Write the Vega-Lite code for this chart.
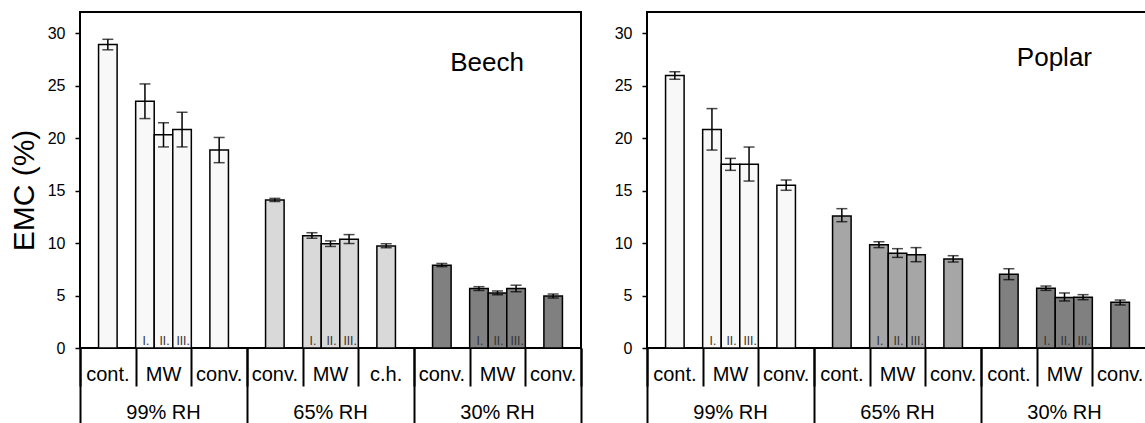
{
  "$schema": "https://vega.github.io/schema/vega-lite/v6.json",
  "padding": {"left": 8, "top": 11, "right": 0, "bottom": 0},
  "spacing": 30,
  "resolve": {"scale": {"color": "independent"}},
  "datasets": {
    "beech": [
      {"rh": "99% RH", "cell": "99% RH cont.", "run": "", "emc": 28.9, "lo": 28.4, "hi": 29.4},
      {"rh": "99% RH", "cell": "99% RH MW", "run": "I.", "emc": 23.5, "lo": 21.85, "hi": 25.15},
      {"rh": "99% RH", "cell": "99% RH MW", "run": "II.", "emc": 20.3, "lo": 19.15, "hi": 21.45},
      {"rh": "99% RH", "cell": "99% RH MW", "run": "III.", "emc": 20.8, "lo": 19.15, "hi": 22.45},
      {"rh": "99% RH", "cell": "99% RH conv.", "run": "", "emc": 18.85, "lo": 17.65, "hi": 20.05},
      {"rh": "65% RH", "cell": "65% RH cont.", "run": "", "emc": 14.1, "lo": 13.95, "hi": 14.25},
      {"rh": "65% RH", "cell": "65% RH MW", "run": "I.", "emc": 10.7, "lo": 10.45, "hi": 10.98},
      {"rh": "65% RH", "cell": "65% RH MW", "run": "II.", "emc": 9.93, "lo": 9.67, "hi": 10.2},
      {"rh": "65% RH", "cell": "65% RH MW", "run": "III.", "emc": 10.35, "lo": 9.95, "hi": 10.8},
      {"rh": "65% RH", "cell": "65% RH conv.", "run": "", "emc": 9.72, "lo": 9.55, "hi": 9.93},
      {"rh": "30% RH", "cell": "30% RH cont.", "run": "", "emc": 7.88, "lo": 7.75, "hi": 8.05},
      {"rh": "30% RH", "cell": "30% RH MW", "run": "I.", "emc": 5.66, "lo": 5.48, "hi": 5.84},
      {"rh": "30% RH", "cell": "30% RH MW", "run": "II.", "emc": 5.25, "lo": 5.07, "hi": 5.43},
      {"rh": "30% RH", "cell": "30% RH MW", "run": "III.", "emc": 5.66, "lo": 5.36, "hi": 5.98},
      {"rh": "30% RH", "cell": "30% RH conv.", "run": "", "emc": 4.95, "lo": 4.76, "hi": 5.14}
    ],
    "poplar": [
      {"rh": "99% RH", "cell": "99% RH cont.", "run": "", "emc": 25.95, "lo": 25.6, "hi": 26.3},
      {"rh": "99% RH", "cell": "99% RH MW", "run": "I.", "emc": 20.8, "lo": 18.85, "hi": 22.8},
      {"rh": "99% RH", "cell": "99% RH MW", "run": "II.", "emc": 17.5, "lo": 16.92, "hi": 18.06},
      {"rh": "99% RH", "cell": "99% RH MW", "run": "III.", "emc": 17.5, "lo": 15.9, "hi": 19.14},
      {"rh": "99% RH", "cell": "99% RH conv.", "run": "", "emc": 15.5, "lo": 15.02, "hi": 16.0},
      {"rh": "65% RH", "cell": "65% RH cont.", "run": "", "emc": 12.57, "lo": 12.03, "hi": 13.27},
      {"rh": "65% RH", "cell": "65% RH MW", "run": "I.", "emc": 9.83, "lo": 9.56, "hi": 10.12},
      {"rh": "65% RH", "cell": "65% RH MW", "run": "II.", "emc": 9.03, "lo": 8.63, "hi": 9.46},
      {"rh": "65% RH", "cell": "65% RH MW", "run": "III.", "emc": 8.88, "lo": 8.22, "hi": 9.56},
      {"rh": "65% RH", "cell": "65% RH conv.", "run": "", "emc": 8.48, "lo": 8.19, "hi": 8.79},
      {"rh": "30% RH", "cell": "30% RH cont.", "run": "", "emc": 7.03, "lo": 6.51, "hi": 7.55},
      {"rh": "30% RH", "cell": "30% RH MW", "run": "I.", "emc": 5.69, "lo": 5.49, "hi": 5.9},
      {"rh": "30% RH", "cell": "30% RH MW", "run": "II.", "emc": 4.8, "lo": 4.48, "hi": 5.24},
      {"rh": "30% RH", "cell": "30% RH MW", "run": "III.", "emc": 4.84, "lo": 4.6, "hi": 5.08},
      {"rh": "30% RH", "cell": "30% RH conv.", "run": "", "emc": 4.35, "lo": 4.1, "hi": 4.57}
    ],
    "beechCells": [
      {"cell": "99% RH cont.", "label": "cont."},
      {"cell": "99% RH MW", "label": "MW"},
      {"cell": "99% RH conv.", "label": "conv."},
      {"cell": "65% RH cont.", "label": "conv."},
      {"cell": "65% RH MW", "label": "MW"},
      {"cell": "65% RH conv.", "label": "c.h."},
      {"cell": "30% RH cont.", "label": "conv."},
      {"cell": "30% RH MW", "label": "MW"},
      {"cell": "30% RH conv.", "label": "conv."}
    ],
    "poplarCells": [
      {"cell": "99% RH cont.", "label": "cont."},
      {"cell": "99% RH MW", "label": "MW"},
      {"cell": "99% RH conv.", "label": "conv."},
      {"cell": "65% RH cont.", "label": "cont."},
      {"cell": "65% RH MW", "label": "MW"},
      {"cell": "65% RH conv.", "label": "conv."},
      {"cell": "30% RH cont.", "label": "cont."},
      {"cell": "30% RH MW", "label": "MW"},
      {"cell": "30% RH conv.", "label": "conv."}
    ],
    "groups": [
      {"rh": "99% RH"},
      {"rh": "65% RH"},
      {"rh": "30% RH"}
    ]
  },
  "hconcat": [
    {
      "title": {"text": "Beech", "anchor": "end", "dx": -58, "offset": -85, "baseline": "alphabetic", "fontSize": 26, "fontWeight": "normal", "color": "black"},
      "width": 501,
      "height": 336,
      "layer": [
        {
          "encoding": {
            "x": {"field": "cell", "type": "nominal", "title": null,
              "scale": {"domain": ["99% RH cont.", "99% RH MW", "99% RH conv.", "65% RH cont.", "65% RH MW", "65% RH conv.", "30% RH cont.", "30% RH MW", "30% RH conv."], "paddingInner": 0, "paddingOuter": 0},
              "axis": {"orient": "bottom", "labels": false, "domain": false, "ticks": true, "tickBand": "extent", "tickSize": 38, "tickWidth": 2, "tickColor": "black"}}
          },
          "layer": [
            {
              "data": {"name": "beech"},
              "transform": [{"filter": "datum.run == ''"}],
              "mark": {"type": "bar", "width": {"band": 0.3333}, "stroke": "black", "strokeWidth": 1.5},
              "encoding": {
                "y": {"field": "emc", "type": "quantitative", "title": "EMC (%)", "scale": {"domain": [0, 32], "nice": false}, "axis": {"titleY": 178}},
                "color": {"field": "rh", "type": "nominal", "legend": null, "scale": {"domain": ["99% RH", "65% RH", "30% RH"], "range": ["#f8f8f8", "#d9d9d9", "#808080"]}}
              }
            },
            {
              "data": {"name": "beech"},
              "transform": [{"filter": "datum.run != ''"}],
              "mark": {"type": "bar", "stroke": "black", "strokeWidth": 1.5},
              "encoding": {
                "xOffset": {"field": "run", "type": "nominal", "scale": {"domain": ["I.", "II.", "III."], "paddingInner": 0, "paddingOuter": 0}},
                "y": {"field": "emc", "type": "quantitative", "title": "EMC (%)"},
                "color": {"field": "rh", "type": "nominal", "legend": null}
              }
            },
            {
              "data": {"name": "beech"},
              "transform": [{"filter": "datum.run == ''"}],
              "mark": {"type": "rule", "color": "black", "strokeWidth": 1.5},
              "encoding": {
                "y": {"field": "lo", "type": "quantitative", "title": "EMC (%)"},
                "y2": {"field": "hi"}
              }
            },
            {
              "data": {"name": "beech"},
              "transform": [{"filter": "datum.run == ''"}],
              "mark": {"type": "tick", "color": "black", "size": 11, "thickness": 1.5},
              "encoding": {"y": {"field": "lo", "type": "quantitative", "title": "EMC (%)"}}
            },
            {
              "data": {"name": "beech"},
              "transform": [{"filter": "datum.run == ''"}],
              "mark": {"type": "tick", "color": "black", "size": 11, "thickness": 1.5},
              "encoding": {"y": {"field": "hi", "type": "quantitative", "title": "EMC (%)"}}
            },
            {
              "data": {"name": "beech"},
              "transform": [{"filter": "datum.run != ''"}],
              "mark": {"type": "rule", "color": "black", "strokeWidth": 1.5},
              "encoding": {
                "xOffset": {"field": "run", "type": "nominal"},
                "y": {"field": "lo", "type": "quantitative", "title": "EMC (%)"},
                "y2": {"field": "hi"}
              }
            },
            {
              "data": {"name": "beech"},
              "transform": [{"filter": "datum.run != ''"}],
              "mark": {"type": "tick", "color": "black", "size": 11, "thickness": 1.5},
              "encoding": {"xOffset": {"field": "run", "type": "nominal"}, "y": {"field": "lo", "type": "quantitative", "title": "EMC (%)"}}
            },
            {
              "data": {"name": "beech"},
              "transform": [{"filter": "datum.run != ''"}],
              "mark": {"type": "tick", "color": "black", "size": 11, "thickness": 1.5},
              "encoding": {"xOffset": {"field": "run", "type": "nominal"}, "y": {"field": "hi", "type": "quantitative", "title": "EMC (%)"}}
            },
            {
              "data": {"name": "beech"},
              "transform": [{"filter": "datum.run != ''"}],
              "mark": {"type": "text", "fontSize": 12, "baseline": "alphabetic", "dy": -3, "dx": 1, "color": "#333333"},
              "encoding": {"xOffset": {"field": "run", "type": "nominal"}, "y": {"datum": 0}, "text": {"field": "run"}}
            },
            {
              "data": {"name": "beechCells"},
              "mark": {"type": "text", "fontSize": 20, "baseline": "alphabetic", "dy": 33, "color": "black"},
              "encoding": {"y": {"datum": 0}, "text": {"field": "label"}}
            }
          ]
        },
        {
          "data": {"name": "groups"},
          "mark": {"type": "text", "fontSize": 20, "baseline": "alphabetic", "dy": 71, "color": "black"},
          "encoding": {
            "x": {"field": "rh", "type": "nominal", "title": null,
              "scale": {"domain": ["99% RH", "65% RH", "30% RH"], "paddingInner": 0, "paddingOuter": 0},
              "axis": {"orient": "bottom", "labels": false, "domain": false, "ticks": true, "tickBand": "extent", "tickSize": 76, "tickWidth": 2, "tickColor": "black"}},
            "y": {"datum": 0},
            "text": {"field": "rh"}
          }
        }
      ],
      "resolve": {"scale": {"x": "independent"}, "axis": {"x": "independent"}}
    },
    {
      "title": {"text": "Poplar", "anchor": "end", "dx": -57, "offset": -80, "baseline": "alphabetic", "fontSize": 26, "fontWeight": "normal", "color": "black"},
      "width": 501,
      "height": 336,
      "layer": [
        {
          "encoding": {
            "x": {"field": "cell", "type": "nominal", "title": null,
              "scale": {"domain": ["99% RH cont.", "99% RH MW", "99% RH conv.", "65% RH cont.", "65% RH MW", "65% RH conv.", "30% RH cont.", "30% RH MW", "30% RH conv."], "paddingInner": 0, "paddingOuter": 0},
              "axis": {"orient": "bottom", "labels": false, "domain": false, "ticks": true, "tickBand": "extent", "tickSize": 38, "tickWidth": 2, "tickColor": "black"}}
          },
          "layer": [
            {
              "data": {"name": "poplar"},
              "transform": [{"filter": "datum.run == ''"}],
              "mark": {"type": "bar", "width": {"band": 0.3333}, "stroke": "black", "strokeWidth": 1.5},
              "encoding": {
                "y": {"field": "emc", "type": "quantitative", "title": null, "scale": {"domain": [0, 32], "nice": false}},
                "color": {"field": "rh", "type": "nominal", "legend": null, "scale": {"domain": ["99% RH", "65% RH", "30% RH"], "range": ["#f8f8f8", "#a6a6a6", "#808080"]}}
              }
            },
            {
              "data": {"name": "poplar"},
              "transform": [{"filter": "datum.run != ''"}],
              "mark": {"type": "bar", "stroke": "black", "strokeWidth": 1.5},
              "encoding": {
                "xOffset": {"field": "run", "type": "nominal", "scale": {"domain": ["I.", "II.", "III."], "paddingInner": 0, "paddingOuter": 0}},
                "y": {"field": "emc", "type": "quantitative", "title": null},
                "color": {"field": "rh", "type": "nominal", "legend": null}
              }
            },
            {
              "data": {"name": "poplar"},
              "transform": [{"filter": "datum.run == ''"}],
              "mark": {"type": "rule", "color": "black", "strokeWidth": 1.5},
              "encoding": {
                "y": {"field": "lo", "type": "quantitative", "title": null},
                "y2": {"field": "hi"}
              }
            },
            {
              "data": {"name": "poplar"},
              "transform": [{"filter": "datum.run == ''"}],
              "mark": {"type": "tick", "color": "black", "size": 11, "thickness": 1.5},
              "encoding": {"y": {"field": "lo", "type": "quantitative", "title": null}}
            },
            {
              "data": {"name": "poplar"},
              "transform": [{"filter": "datum.run == ''"}],
              "mark": {"type": "tick", "color": "black", "size": 11, "thickness": 1.5},
              "encoding": {"y": {"field": "hi", "type": "quantitative", "title": null}}
            },
            {
              "data": {"name": "poplar"},
              "transform": [{"filter": "datum.run != ''"}],
              "mark": {"type": "rule", "color": "black", "strokeWidth": 1.5},
              "encoding": {
                "xOffset": {"field": "run", "type": "nominal"},
                "y": {"field": "lo", "type": "quantitative", "title": null},
                "y2": {"field": "hi"}
              }
            },
            {
              "data": {"name": "poplar"},
              "transform": [{"filter": "datum.run != ''"}],
              "mark": {"type": "tick", "color": "black", "size": 11, "thickness": 1.5},
              "encoding": {"xOffset": {"field": "run", "type": "nominal"}, "y": {"field": "lo", "type": "quantitative", "title": null}}
            },
            {
              "data": {"name": "poplar"},
              "transform": [{"filter": "datum.run != ''"}],
              "mark": {"type": "tick", "color": "black", "size": 11, "thickness": 1.5},
              "encoding": {"xOffset": {"field": "run", "type": "nominal"}, "y": {"field": "hi", "type": "quantitative", "title": null}}
            },
            {
              "data": {"name": "poplar"},
              "transform": [{"filter": "datum.run != ''"}],
              "mark": {"type": "text", "fontSize": 12, "baseline": "alphabetic", "dy": -3, "dx": 1, "color": "#333333"},
              "encoding": {"xOffset": {"field": "run", "type": "nominal"}, "y": {"datum": 0}, "text": {"field": "run"}}
            },
            {
              "data": {"name": "poplarCells"},
              "mark": {"type": "text", "fontSize": 20, "baseline": "alphabetic", "dy": 33, "color": "black"},
              "encoding": {"y": {"datum": 0}, "text": {"field": "label"}}
            }
          ]
        },
        {
          "data": {"name": "groups"},
          "mark": {"type": "text", "fontSize": 20, "baseline": "alphabetic", "dy": 71, "color": "black"},
          "encoding": {
            "x": {"field": "rh", "type": "nominal", "title": null,
              "scale": {"domain": ["99% RH", "65% RH", "30% RH"], "paddingInner": 0, "paddingOuter": 0},
              "axis": {"orient": "bottom", "labels": false, "domain": false, "ticks": true, "tickBand": "extent", "tickSize": 76, "tickWidth": 2, "tickColor": "black"}},
            "y": {"datum": 0},
            "text": {"field": "rh"}
          }
        }
      ],
      "resolve": {"scale": {"x": "independent"}, "axis": {"x": "independent"}}
    }
  ],
  "config": {
    "font": "Liberation Sans",
    "view": {"stroke": "black", "strokeWidth": 2},
    "axisY": {
      "values": [0, 5, 10, 15, 20, 25, 30],
      "grid": false,
      "domain": false,
      "tickSize": 5,
      "tickWidth": 1.5,
      "tickColor": "black",
      "labelFontSize": 16,
      "labelColor": "black",
      "labelPadding": 10,
      "titleFontSize": 30,
      "titleFontWeight": "normal",
      "titleColor": "black",
      "titlePadding": 8
    }
  }
}
